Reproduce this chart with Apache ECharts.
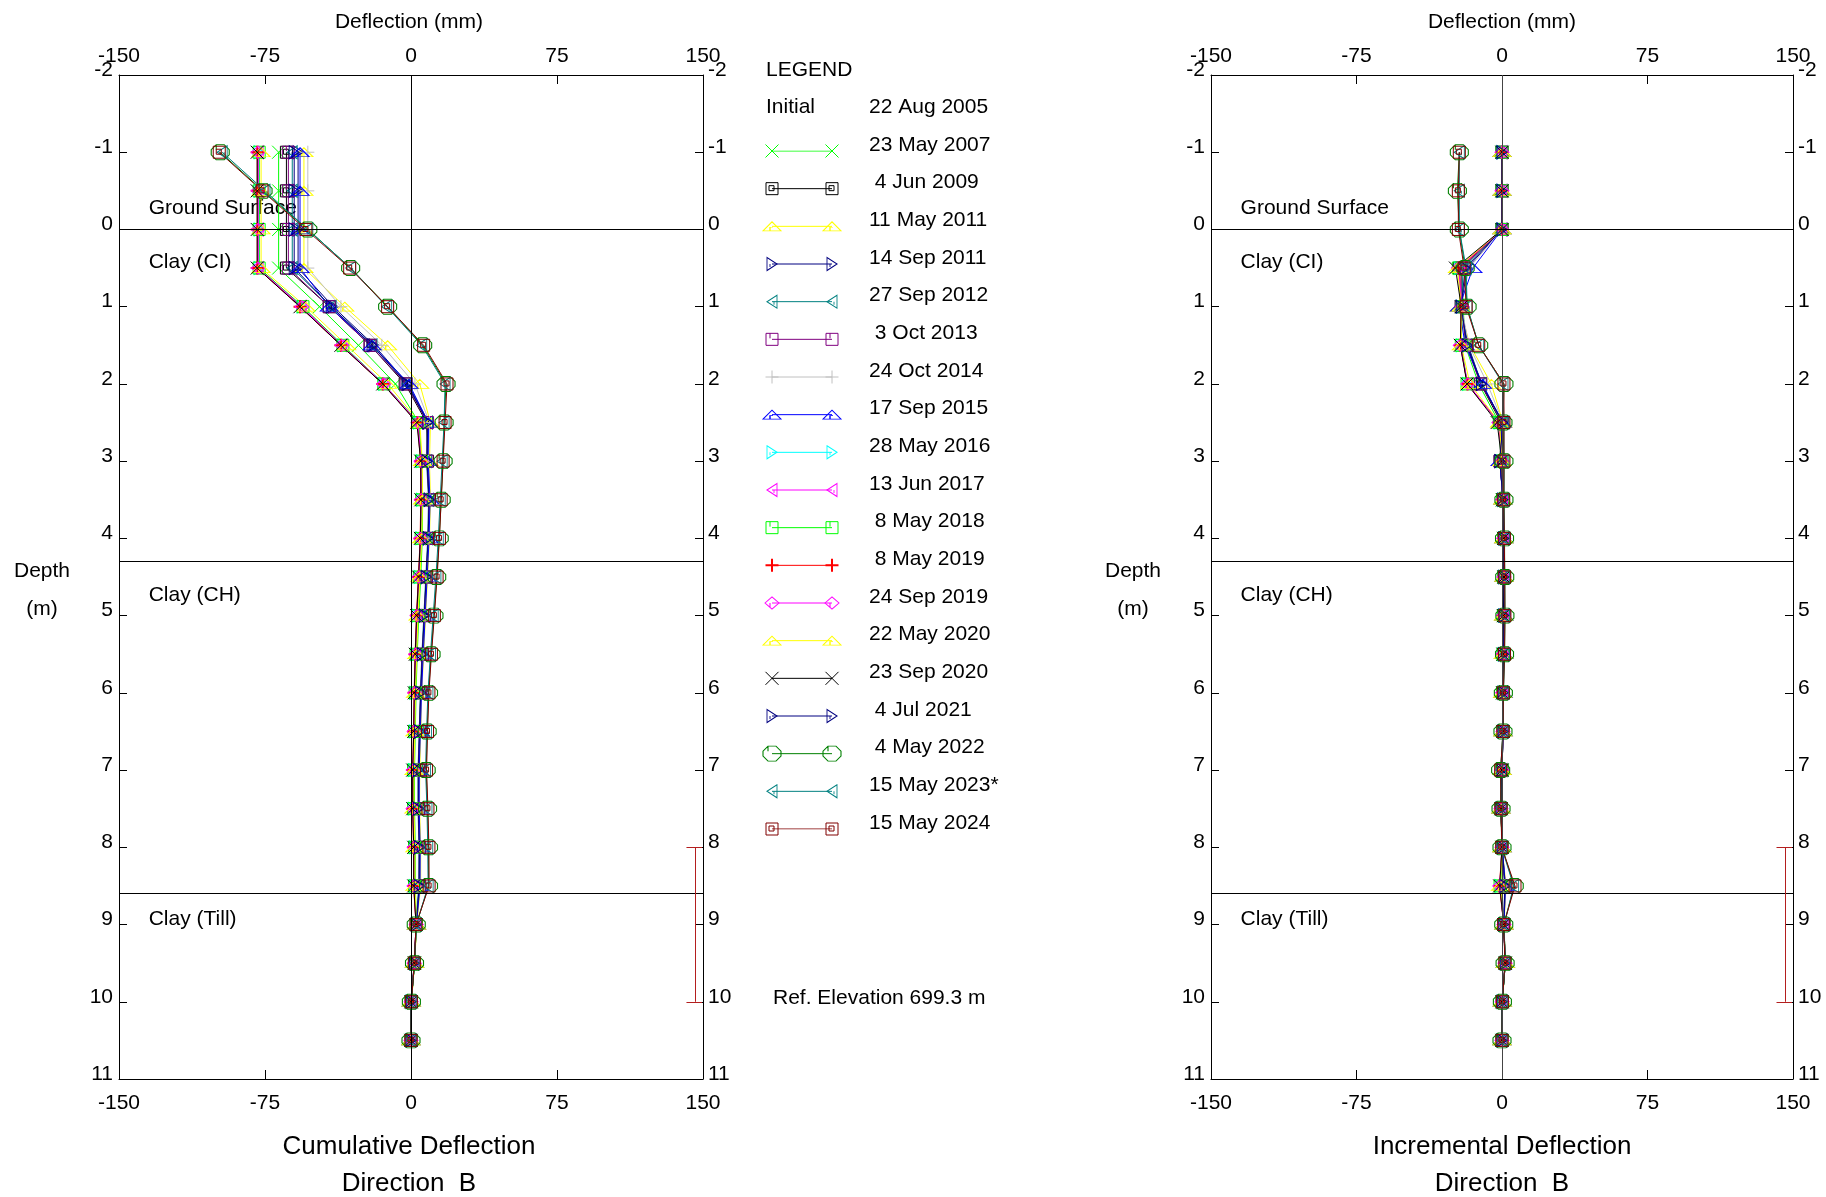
<!DOCTYPE html>
<html>
<head>
<meta charset="utf-8">
<title>Inclinometer Deflection – Direction B</title>
<script src="https://cdn.jsdelivr.net/npm/echarts@6/dist/echarts.min.js"></script>
<style>
  html, body { margin: 0; padding: 0; background: #fff; }
  #chart { width: 1826px; height: 1197px; }
</style>
</head>
<body>
<div id="chart"></div>
<script>
// ---------------- data ----------------
// reading depths below ground surface (m)
const depths = [-1, -0.5, 0, 0.5, 1, 1.5, 2, 2.5, 3, 3.5, 4, 4.5, 5, 5.5, 6, 6.5, 7, 7.5, 8, 8.5, 9, 9.5, 10, 10.5];

const readingDates = ['23 May 2007', '4 Jun 2009', '11 May 2011', '14 Sep 2011', '27 Sep 2012', '3 Oct 2013',
  '24 Oct 2014', '17 Sep 2015', '28 May 2016', '13 Jun 2017', '8 May 2018', '8 May 2019', '24 Sep 2019',
  '22 May 2020', '23 Sep 2020', '4 Jul 2021', '4 May 2022', '15 May 2023*', '15 May 2024'];

// cumulative deflection (mm), one value per depth
const cum_23May2007 = [-68, -68, -68, -68, -47, -27, -8, 4, 5.5, 6, 5.8, 5, 4, 3.2, 2.6, 2.2, 1.8, 1.8, 2.2, 2.2, 2.8, 1.8, 0.2, 0];
const cum_04Jun2009 = [-64, -64, -64, -64, -42, -21, -3, 8, 8.5, 9.5, 9, 8, 7, 6, 5.2, 4.6, 4, 4, 4.5, 4.5, 2.8, 1.8, 0.1, 0];
const cum_11May2011 = [-55, -55, -55, -55, -34, -12, 4.5, 10, 9.5, 10, 9.5, 8.5, 7.5, 6.5, 5.5, 5, 4.5, 4.4, 5, 5, 2.9, 1.9, 0.2, 0];
const cum_14Sep2011 = [-58, -58, -58, -58, -40, -19, -1.5, 9, 8.5, 9.5, 9, 8, 7, 6, 5, 4.5, 4, 4, 4.5, 4.4, 2.7, 1.8, 0.1, 0];
const cum_27Sep2012 = [-61, -61, -61, -61, -41, -20, -2, 8.5, 8, 9, 8.6, 7.6, 6.6, 5.6, 4.8, 4.2, 3.6, 3.6, 4.1, 4, 2.6, 1.7, 0.1, 0];
const cum_03Oct2013 = [-63, -63, -63, -63, -42, -21, -2.5, 8.5, 8.2, 9.2, 8.8, 7.8, 6.8, 5.8, 5, 4.4, 3.8, 3.8, 4.3, 4.2, 2.7, 1.8, 0.1, 0];
const cum_24Oct2014 = [-53, -53, -53, -53, -36, -15, 2, 9.5, 9, 9.8, 9.2, 8.2, 7.2, 6.2, 5.4, 4.8, 4.2, 4.2, 4.7, 4.6, 2.8, 1.8, 0.1, 0];
const cum_17Sep2015 = [-57, -57, -57, -57, -42, -20, -1, 9, 8.8, 9.8, 9.3, 8.3, 7.3, 6.3, 5.4, 4.8, 4.2, 4.2, 4.7, 4.6, 2.8, 1.8, 0.1, 0];
const cum_28May2016 = [-78, -78, -78, -78, -56, -35, -14, 3.8, 5.3, 5.4, 5.1, 4.2, 3.2, 2.5, 2, 1.7, 1.2, 1.2, 1.7, 1.7, 2.7, 1.8, 0.1, 0];
const cum_13Jun2017 = [-78.5, -78.5, -78.5, -78.5, -56.5, -35.5, -14.5, 3.6, 5.1, 5.2, 4.9, 4, 3, 2.3, 1.8, 1.5, 1, 1, 1.5, 1.5, 2.6, 1.7, 0.1, 0];
const cum_08May2018 = [-78, -78, -78, -78, -55.5, -35, -14, 4, 5.4, 5.5, 5.2, 4.3, 3.3, 2.6, 2.1, 1.8, 1.3, 1.3, 1.8, 1.8, 2.8, 1.8, 0.1, 0];
const cum_08May2019 = [-79, -79, -79, -79, -57, -36, -14.5, 3.3, 4.9, 5, 4.7, 3.8, 2.8, 2.1, 1.6, 1.3, 0.8, 0.8, 1.3, 1.3, 2.6, 1.7, 0, 0];
const cum_24Sep2019 = [-78.5, -78.5, -78.5, -78.5, -56, -35.5, -14, 3.6, 5.2, 5.3, 5, 4.1, 3.1, 2.4, 1.9, 1.6, 1.1, 1.1, 1.6, 1.6, 2.7, 1.7, 0.1, 0];
const cum_22May2020 = [-77, -77, -77, -77, -54, -33, -12, 4.5, 5.8, 5.9, 5.5, 4.6, 3.6, 2.9, 2.3, 2, 1.5, 1.5, 2, 2, 2.8, 1.8, 0.1, 0];
const cum_23Sep2020 = [-79, -79, -79, -79, -57, -36, -14.5, 3, 5, 5.1, 4.8, 3.9, 2.9, 2.2, 1.7, 1.4, 0.9, 0.9, 1.4, 1.4, 2.6, 1.7, 0, 0];
const cum_04Jul2021 = [-60, -60, -60, -60, -41, -20, -2, 8.6, 8.2, 9.3, 8.8, 7.8, 6.8, 5.8, 5, 4.4, 3.8, 3.8, 4.3, 4.2, 2.7, 1.8, 0.1, 0];
const cum_04May2022 = [-98, -76, -53, -31, -12, 6, 18, 17, 16.5, 15.5, 14.5, 13.2, 11.8, 10.3, 9, 8.3, 7.8, 8.5, 9, 9, 2.7, 1.8, 0.2, 0];
const cum_15May2023 = [-97, -75, -53, -31, -12.5, 5.5, 17.5, 17, 16, 15, 14, 12.8, 11.4, 10, 8.7, 8, 7.5, 8.2, 8.6, 8.8, 2.8, 1.6, 0.1, 0];
const cum_15May2024 = [-98.5, -76.5, -54, -31.5, -12, 6.5, 18.5, 17.5, 16.5, 15.5, 14.6, 13.4, 12, 10.5, 9.2, 8.5, 8, 8.7, 9.2, 9.3, 2.6, 1.7, 0.2, 0];

// incremental deflection (mm), one value per depth
const inc_23May2007 = [0, 0, 0, -21, -20, -19, -12, -1.5, -0.5, 0.2, 0.8, 1, 0.8, 0.6, 0.4, 0.4, 0, -0.4, 0, -0.6, 1, 1.6, 0.2, 0];
const inc_04Jun2009 = [0, 0, 0, -22, -21, -18, -11, -0.5, -1, 0.5, 1, 1, 1, 0.8, 0.6, 0.6, 0, -0.5, 0, 1.7, 1, 1.7, 0.1, 0];
const inc_11May2011 = [0, 0, 0, -21, -22, -16.5, -5.5, 0.5, -0.5, 0.5, 1, 1, 1, 1, 0.5, 0.5, 0.1, -0.6, 0, 2.1, 1, 1.7, 0.2, 0];
const inc_14Sep2011 = [0, 0, 0, -18, -21, -17.5, -10.5, 0.5, -1, 0.5, 1, 1, 1, 1, 0.5, 0.5, 0, -0.5, 0.1, 1.7, 0.9, 1.7, 0.1, 0];
const inc_27Sep2012 = [0, 0, 0, -20, -21, -18, -10.5, 0.5, -1, 0.4, 1, 1, 1, 0.8, 0.6, 0.6, 0, -0.5, 0.1, 1.4, 0.9, 1.6, 0.1, 0];
const inc_03Oct2013 = [0, 0, 0, -21, -21, -18.5, -11, 0.3, -1, 0.4, 1, 1, 1, 0.8, 0.6, 0.6, 0, -0.5, 0.1, 1.5, 0.9, 1.7, 0.1, 0];
const inc_24Oct2014 = [0, 0, 0, -17, -21, -17, -7.5, 0.5, -0.8, 0.6, 1, 1, 1, 0.8, 0.6, 0.6, 0, -0.5, 0.1, 1.8, 1, 1.7, 0.1, 0];
const inc_17Sep2015 = [0, 0, 0, -15, -22, -19, -10, 0.2, -1, 0.5, 1, 1, 1, 0.9, 0.6, 0.6, 0, -0.5, 0.1, 1.8, 1, 1.7, 0.1, 0];
const inc_28May2016 = [0, 0, 0, -22, -21, -21, -17.8, -1.5, -0.1, 0.3, 0.9, 1, 0.7, 0.5, 0.3, 0.5, 0, -0.5, 0, -1, 0.9, 1.7, 0.1, 0];
const inc_13Jun2017 = [0, 0, 0, -22, -21, -21, -18.1, -1.5, -0.1, 0.3, 0.9, 1, 0.7, 0.5, 0.3, 0.5, 0, -0.5, 0, -1.1, 0.9, 1.6, 0.1, 0];
const inc_08May2018 = [0, 0, 0, -22.5, -20.5, -21, -18, -1.4, -0.1, 0.3, 0.9, 1, 0.7, 0.5, 0.3, 0.5, 0, -0.5, 0, -1, 1, 1.7, 0.1, 0];
const inc_08May2019 = [0, 0, 0, -22, -21, -21.5, -17.8, -1.6, -0.1, 0.3, 0.9, 1, 0.7, 0.5, 0.3, 0.5, 0, -0.5, 0, -1.3, 0.9, 1.7, 0, 0];
const inc_24Sep2019 = [0, 0, 0, -22.5, -20.5, -21.5, -17.6, -1.6, -0.1, 0.3, 0.9, 1, 0.7, 0.5, 0.3, 0.5, 0, -0.5, 0, -1.1, 1, 1.6, 0.1, 0];
const inc_22May2020 = [0, 0, 0, -23, -21, -21, -16.5, -1.3, -0.1, 0.4, 0.9, 1, 0.7, 0.6, 0.3, 0.5, 0, -0.5, 0, -0.8, 1, 1.7, 0.1, 0];
const inc_23Sep2020 = [0, 0, 0, -24, -21, -21.5, -18, -2.5, -0.1, 0.3, 0.9, 1, 0.7, 0.5, 0.3, 0.5, 0, -0.5, 0, -1.2, 0.9, 1.7, 0, 0];
const inc_04Jul2021 = [0, 0, 0, -19, -21, -18, -10.6, 0.4, -1.1, 0.5, 1, 1, 1, 0.8, 0.6, 0.6, 0, -0.5, 0.1, 1.5, 0.9, 1.7, 0.1, 0];
const inc_04May2022 = [-22, -23, -22, -19, -18, -12, 1, 0.5, 1, 1, 1.3, 1.4, 1.5, 1.3, 0.7, 0.5, -0.7, -0.5, 0, 6.3, 0.9, 1.6, 0.2, 0];
const inc_15May2023 = [-22, -22, -22, -18.5, -18, -12, 0.5, 1, 1, 1, 1.2, 1.4, 1.4, 1.3, 0.7, 0.5, -0.7, -0.4, -0.2, 6, 1.2, 1.5, 0.1, 0];
const inc_15May2024 = [-22, -22.5, -22.5, -19.5, -18.5, -12, 1, 1, 1, 0.9, 1.2, 1.4, 1.5, 1.3, 0.7, 0.5, -0.7, -0.5, -0.1, 6.7, 0.9, 1.5, 0.2, 0];

// axis ticks
const deflectionTicks = [-150, -75, 0, 75, 150];
const depthTicks = [-2, -1, 0, 1, 2, 3, 4, 5, 6, 7, 8, 9, 10, 11];

// soil layer boundaries (m) and their names
const layerBoundaries = [0, 4.3, 8.6];
const layerNames = ['Ground Surface', 'Clay (CI)', 'Clay (CH)', 'Clay (Till)'];
const layerNameDepths = [-0.28, 0.43, 4.73, 8.93];

// gauge interval bar (m)
const gaugeInterval = [8, 10];

const initialReading = '22 Aug 2005';
const refElevation = 'Ref. Elevation 699.3 m';

// ---------------- styling ----------------
const FONT = '"Liberation Sans", Arial, Helvetica, sans-serif';
const SYM = {
  cross:    'path://M0,0L12,12M0,12L12,0',
  boxInner: 'path://M0,0L12,0L12,12L0,12ZM3,3L8,3L8,8L3,8Z',
  boxTick:  'path://M0,0L12,0L12,12L0,12ZM4,0L4,5',
  triUp:    'path://M0,10L9,0L18,10ZM7,10L7,6L10,6',
  triRight: 'path://M0,0L10,6.5L0,13ZM3,6.5L3,9.5',
  triLeft:  'path://M10,0L0,6.5L10,13ZM7,6.5L7,9.5',
  plus:     'path://M0,6L12,6M6,0L6,12',
  diamond:  'path://M0,6L7,0L14,6L7,12ZM5,6L5,10',
  octagon:  'path://M5,0L13,0L18,5L18,10L13,15L5,15L0,10L0,5ZM5,0L5,5'
};
const readingStyles = [
  { color: '#00ff00', symbol: 'cross',    size: [13, 13] },
  { color: '#000000', symbol: 'boxInner', size: [12, 12] },
  { color: '#ffff00', symbol: 'triUp',    size: [18, 9] },
  { color: '#000080', symbol: 'triRight', size: [10, 13] },
  { color: '#008080', symbol: 'triLeft',  size: [10, 13] },
  { color: '#800080', symbol: 'boxTick',  size: [12, 12] },
  { color: '#c0c0c0', symbol: 'plus',     size: [13, 13] },
  { color: '#0000ff', symbol: 'triUp',    size: [18, 9] },
  { color: '#00ffff', symbol: 'triRight', size: [10, 13] },
  { color: '#ff00ff', symbol: 'triLeft',  size: [10, 13] },
  { color: '#00ff00', symbol: 'boxTick',  size: [12, 12] },
  { color: '#ff0000', symbol: 'plus',     size: [13, 13], bw: 2 },
  { color: '#ff00ff', symbol: 'diamond',  size: [14, 12] },
  { color: '#ffff00', symbol: 'triUp',    size: [18, 9] },
  { color: '#000000', symbol: 'cross',    size: [13, 13] },
  { color: '#000080', symbol: 'triRight', size: [10, 13] },
  { color: '#008000', symbol: 'octagon',  size: [18, 15] },
  { color: '#008080', symbol: 'triLeft',  size: [10, 13] },
  { color: '#800000', symbol: 'boxInner', size: [12, 12] }
];

const cumulativeSets = [cum_23May2007, cum_04Jun2009, cum_11May2011, cum_14Sep2011, cum_27Sep2012, cum_03Oct2013,
  cum_24Oct2014, cum_17Sep2015, cum_28May2016, cum_13Jun2017, cum_08May2018, cum_08May2019, cum_24Sep2019,
  cum_22May2020, cum_23Sep2020, cum_04Jul2021, cum_04May2022, cum_15May2023, cum_15May2024];
const incrementalSets = [inc_23May2007, inc_04Jun2009, inc_11May2011, inc_14Sep2011, inc_27Sep2012, inc_03Oct2013,
  inc_24Oct2014, inc_17Sep2015, inc_28May2016, inc_13Jun2017, inc_08May2018, inc_08May2019, inc_24Sep2019,
  inc_22May2020, inc_23Sep2020, inc_04Jul2021, inc_04May2022, inc_15May2023, inc_15May2024];

// ---------------- layout ----------------
const plotTop = 75, plotHeight = 1004;
const grids = [
  { left: 119, top: plotTop, width: 584, height: plotHeight, containLabel: false },   // cumulative
  { left: 1211, top: plotTop, width: 582, height: plotHeight, containLabel: false },  // incremental
  { left: 772, top: 151, width: 60, height: 678, containLabel: false }               // legend samples
];

function deflectionAxis(gridIndex, position) {
  return {
    type: 'value', gridIndex, position,
    min: deflectionTicks[0], max: deflectionTicks[deflectionTicks.length - 1],
    interval: deflectionTicks[1] - deflectionTicks[0],
    axisLine: { show: true, onZero: false, lineStyle: { color: '#000', width: 1 } },
    axisTick: { show: true, inside: true, length: 9, lineStyle: { color: '#000' } },
    axisLabel: { show: true, margin: position === 'top' ? 8 : 14, fontSize: 21, color: '#000', fontFamily: FONT },
    splitLine: { show: false }
  };
}
function depthAxis(gridIndex, position) {
  return {
    type: 'value', gridIndex, position, inverse: true,
    min: depthTicks[0], max: depthTicks[depthTicks.length - 1], interval: depthTicks[1] - depthTicks[0],
    axisLine: { show: true, onZero: false, lineStyle: { color: '#000', width: 1 } },
    axisTick: { show: true, inside: true, length: 8, lineStyle: { color: '#000' } },
    axisLabel: { show: true, margin: position === 'left' ? 6 : 5, fontSize: 21, color: '#000',
      fontFamily: FONT, verticalAlign: 'bottom', lineHeight: 10 },
    splitLine: { show: false }
  };
}

const xAxis = [
  deflectionAxis(0, 'top'), deflectionAxis(0, 'bottom'),
  deflectionAxis(1, 'top'), deflectionAxis(1, 'bottom'),
  { type: 'value', gridIndex: 2, min: 0, max: 1, show: false }
];
const yAxis = [
  depthAxis(0, 'left'), depthAxis(0, 'right'),
  depthAxis(1, 'left'), depthAxis(1, 'right'),
  {
    type: 'value', gridIndex: 2, position: 'right', inverse: true, min: 0, max: readingDates.length - 1, interval: 1,
    axisLine: { show: false }, axisTick: { show: false }, splitLine: { show: false },
    axisLabel: {
      show: true, margin: 37, align: 'left', fontSize: 21, color: '#000', fontFamily: FONT,
      verticalAlign: 'bottom', lineHeight: 12,
      formatter: v => {
        const d = readingDates[v];
        if (!d) return '';
        return /^\d\s/.test(d) ? ' ' + d : d;
      }
    }
  }
];

function profileSeries(name, values, style, axisIndex) {
  return {
    type: 'line', name, xAxisIndex: axisIndex, yAxisIndex: axisIndex,
    data: values.map((v, i) => [v, depths[i]]),
    symbol: SYM[style.symbol], symbolSize: style.size, symbolKeepAspect: false, showSymbol: true,
    lineStyle: { color: style.color, width: 1 },
    itemStyle: { color: 'rgba(0,0,0,0)', borderColor: style.color, borderWidth: style.bw || 1 },
    emphasis: { disabled: true }, silent: true, animation: false, z: 3
  };
}
function legendSample(name, style, row) {
  return {
    type: 'line', name: name + ' (legend)', xAxisIndex: 4, yAxisIndex: 4,
    data: [[0, row], [1, row]],
    symbol: SYM[style.symbol], symbolSize: style.size, symbolKeepAspect: false,
    lineStyle: { color: style.color, width: 1 },
    itemStyle: { color: 'rgba(0,0,0,0)', borderColor: style.color, borderWidth: style.bw || 1 },
    emphasis: { disabled: true }, silent: true, animation: false, z: 3
  };
}

// reference lines, layer names and gauge bar for one plot
function frameSeries(axisIndex, zeroColor) {
  const gaugeStyle = { color: '#b41e1e', width: 1, type: 'solid' };
  const layerLines = layerBoundaries.map(d => ({ yAxis: d, lineStyle: { color: '#000', width: 1, type: 'solid' } }));
  return {
    type: 'scatter', name: 'frame' + axisIndex, xAxisIndex: axisIndex, yAxisIndex: axisIndex,
    data: layerNames.map((n, i) => [-135, layerNameDepths[i], n]),
    symbolSize: 1, itemStyle: { color: 'rgba(0,0,0,0)', opacity: 1 },
    label: { show: true, position: 'right', distance: 0, formatter: p => p.data[2], opacity: 1,
      fontSize: 21, color: '#000', fontFamily: FONT, textBorderWidth: 0 },
    silent: true, animation: false, z: 1,
    markLine: {
      silent: true, animation: false, symbol: ['none', 'none'], label: { show: false },
      emphasis: { disabled: true },
      data: [
        { xAxis: 0, lineStyle: { color: zeroColor, width: 1, type: 'solid' } },
        ...layerLines,
        [{ coord: [146, gaugeInterval[0]], lineStyle: gaugeStyle }, { coord: [146, gaugeInterval[1]] }],
        [{ coord: [141.5, gaugeInterval[0]], lineStyle: gaugeStyle }, { coord: [149.5, gaugeInterval[0]] }],
        [{ coord: [141.5, gaugeInterval[1]], lineStyle: gaugeStyle }, { coord: [149.5, gaugeInterval[1]] }]
      ]
    }
  };
}

const series = [frameSeries(0, '#000'), frameSeries(2, '#444')];
readingDates.forEach((d, i) => {
  series.push(profileSeries(d, cumulativeSets[i], readingStyles[i], 0));
});
readingDates.forEach((d, i) => {
  series.push(profileSeries(d, incrementalSets[i], readingStyles[i], 2));
});
readingDates.forEach((d, i) => {
  series.push(legendSample(d, readingStyles[i], i));
});

function text(x, y, str, size, align) {
  return {
    type: 'text', x, y, silent: true,
    style: { text: str, fontSize: size, fontFamily: FONT, fill: '#000',
      textAlign: align || 'center', textVerticalAlign: 'middle' }
  };
}

const graphic = [
  text(409, 22, 'Deflection (mm)', 21),
  text(1502, 22, 'Deflection (mm)', 21),
  text(42, 571, 'Depth', 21), text(42, 609, '(m)', 21),
  text(1133, 571, 'Depth', 21), text(1133, 609, '(m)', 21),
  text(409, 1147, 'Cumulative Deflection', 26), text(409, 1184, 'Direction  B', 26),
  text(1502, 1147, 'Incremental Deflection', 26), text(1502, 1184, 'Direction  B', 26),
  text(766, 70, 'LEGEND', 21, 'left'),
  text(766, 107, 'Initial', 21, 'left'),
  text(869, 107, initialReading, 21, 'left'),
  text(773, 998, refElevation, 21, 'left')
];

const chart = echarts.init(document.getElementById('chart'), null, { renderer: 'canvas' });
chart.setOption({
  backgroundColor: '#fff',
  animation: false,
  grid: grids,
  xAxis,
  yAxis,
  series,
  graphic
});
</script>
</body>
</html>
